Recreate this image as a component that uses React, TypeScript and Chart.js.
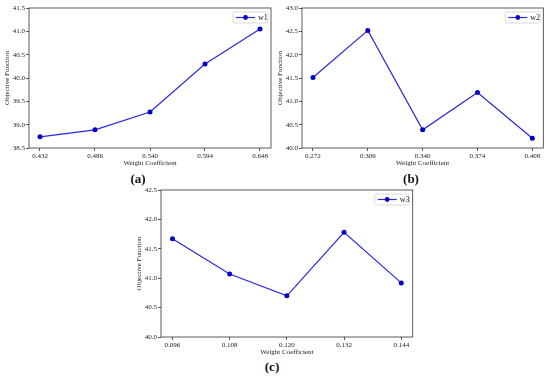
import React, { useEffect, useRef } from 'react';
import { Chart, registerables } from 'chart.js';
Chart.register(...registerables);

const w1X = [0.432, 0.486, 0.54, 0.594, 0.648];
const w1Y = [38.74, 38.89, 39.27, 40.3, 41.05];
const w2X = [0.272, 0.306, 0.34, 0.374, 0.408];
const w2Y = [41.51, 42.52, 40.39, 41.19, 40.21];
const w3X = [0.096, 0.108, 0.12, 0.132, 0.144];
const w3Y = [41.67, 41.07, 40.7, 41.78, 40.92];
const w1Bounds = [38.5, 41.5];
const w2Bounds = [40.0, 43.0];
const w3Bounds = [40.0, 42.5];

const FONT = "'Liberation Serif', 'Times New Roman', serif";
const LINE = 'rgb(40,40,225)';
const MARK = '#0000c8';

type PanelProps = {
  xs: number[];
  ys: number[];
  name: string;
  bounds: number[];
  left: number;
  top: number;
  width: number;
  height: number;
  padRight: number;
};

function Panel(p: PanelProps) {
  const ref = useRef<HTMLCanvasElement | null>(null);
  useEffect(() => {
    if (!ref.current) return;
    const range = p.xs[p.xs.length - 1] - p.xs[0];
    const framePlugin = {
      id: 'frameLegend',
      afterDraw(chart: any) {
        const ctx = chart.ctx;
        const a = chart.chartArea;
        ctx.save();
        ctx.strokeStyle = '#333';
        ctx.lineWidth = 0.8;
        ctx.strokeRect(a.left, a.top, a.right - a.left, a.bottom - a.top);
        // legend
        const w = 35, h = 11;
        const bx = a.right - 3 - w, by = a.top + 4;
        ctx.fillStyle = 'rgba(255,255,255,0.9)';
        ctx.strokeStyle = '#d0d0d0';
        ctx.lineWidth = 0.8;
        ctx.beginPath();
        if ((ctx as any).roundRect) (ctx as any).roundRect(bx, by, w, h, 2);
        else ctx.rect(bx, by, w, h);
        ctx.fill();
        ctx.stroke();
        const ly = by + h / 2;
        ctx.strokeStyle = LINE;
        ctx.lineWidth = 1.2;
        ctx.beginPath();
        ctx.moveTo(bx + 3, ly);
        ctx.lineTo(bx + 22, ly);
        ctx.stroke();
        ctx.fillStyle = MARK;
        ctx.beginPath();
        ctx.arc(bx + 12.5, ly, 2.4, 0, Math.PI * 2);
        ctx.fill();
        ctx.fillStyle = '#222';
        ctx.font = `8px ${FONT}`;
        ctx.textBaseline = 'middle';
        ctx.textAlign = 'left';
        ctx.fillText(p.name, bx + 25, ly + 0.5);
        ctx.restore();
      },
    };
    const chart = new Chart(ref.current, {
      type: 'line',
      data: {
        datasets: [
          {
            label: p.name,
            data: p.xs.map((x, i) => ({ x, y: p.ys[i] })),
            borderColor: LINE,
            backgroundColor: MARK,
            borderWidth: 1.2,
            pointRadius: 2.5,
            pointBackgroundColor: MARK,
            pointBorderWidth: 0,
            tension: 0,
          },
        ],
      },
      options: {
        responsive: false,
        animation: false,
        devicePixelRatio: 1,
        layout: { padding: { left: 2.5, right: p.padRight, top: 8, bottom: 0 } },
        plugins: { legend: { display: false }, tooltip: { enabled: false } },
        scales: {
          x: {
            type: 'linear',
            min: p.xs[0] - 0.05 * range,
            max: p.xs[p.xs.length - 1] + 0.05 * range,
            afterBuildTicks: (scale: any) => {
              scale.ticks = p.xs.map((v) => ({ value: v }));
            },
            afterFit: (scale: any) => {
              scale.height = 22;
            },
            ticks: {
              font: { family: FONT, size: 7 },
              color: '#222',
              padding: 1,
              maxRotation: 0,
              autoSkip: false,
              callback: (v: any) => Number(v).toFixed(3),
            },
            grid: { drawOnChartArea: false, drawTicks: true, tickLength: 3, color: '#333', lineWidth: 0.8 },
            border: { display: false },
            title: {
              display: true,
              text: 'Weight Coefficient',
              font: { family: FONT, size: 7 },
              color: '#222',
              padding: { top: 0, bottom: 3 },
            },
          },
          y: {
            min: p.bounds[0],
            max: p.bounds[1],
            afterFit: (scale: any) => {
              scale.width = 26.5;
            },
            ticks: {
              stepSize: 0.5,
              font: { family: FONT, size: 7 },
              color: '#222',
              padding: 1,
              callback: (v: any) => Number(v).toFixed(1),
            },
            grid: { drawOnChartArea: false, drawTicks: true, tickLength: 3, color: '#333', lineWidth: 0.8 },
            border: { display: false },
            title: {
              display: true,
              text: 'Objective Function',
              font: { family: FONT, size: 7 },
              color: '#222',
              padding: { top: 0, bottom: 0 },
            },
          },
        },
      },
      plugins: [framePlugin],
    } as any);
    return () => chart.destroy();
  }, []);
  return (
    <canvas
      ref={ref}
      width={p.width}
      height={p.height}
      style={{ position: 'absolute', left: p.left, top: p.top, width: p.width, height: p.height }}
    />
  );
}

const labelStyle = (x: number, y: number): React.CSSProperties => ({
  position: 'absolute',
  left: x,
  top: y,
  transform: 'translate(-50%, -50%)',
  fontFamily: FONT,
  fontWeight: 'bold',
  fontSize: 13,
  color: '#111',
  whiteSpace: 'nowrap',
});

export default function App() {
  return (
    <div style={{ position: 'fixed', left: 0, top: 0, width: 550, height: 378, background: '#fff', overflow: 'hidden' }}>
      <Panel xs={w1X} ys={w1Y} name="w1" bounds={w1Bounds} left={0} top={0} width={275} height={170} padRight={4} />
      <Panel xs={w2X} ys={w2Y} name="w2" bounds={w2Bounds} left={273} top={0} width={277} height={170} padRight={6.7} />
      <Panel xs={w3X} ys={w3Y} name="w3" bounds={w3Bounds} left={132} top={182} width={290} height={177} padRight={9.3} />
      <div style={labelStyle(138, 179)}>(a)</div>
      <div style={labelStyle(411, 179)}>(b)</div>
      <div style={labelStyle(272, 367)}>(c)</div>
    </div>
  );
}
